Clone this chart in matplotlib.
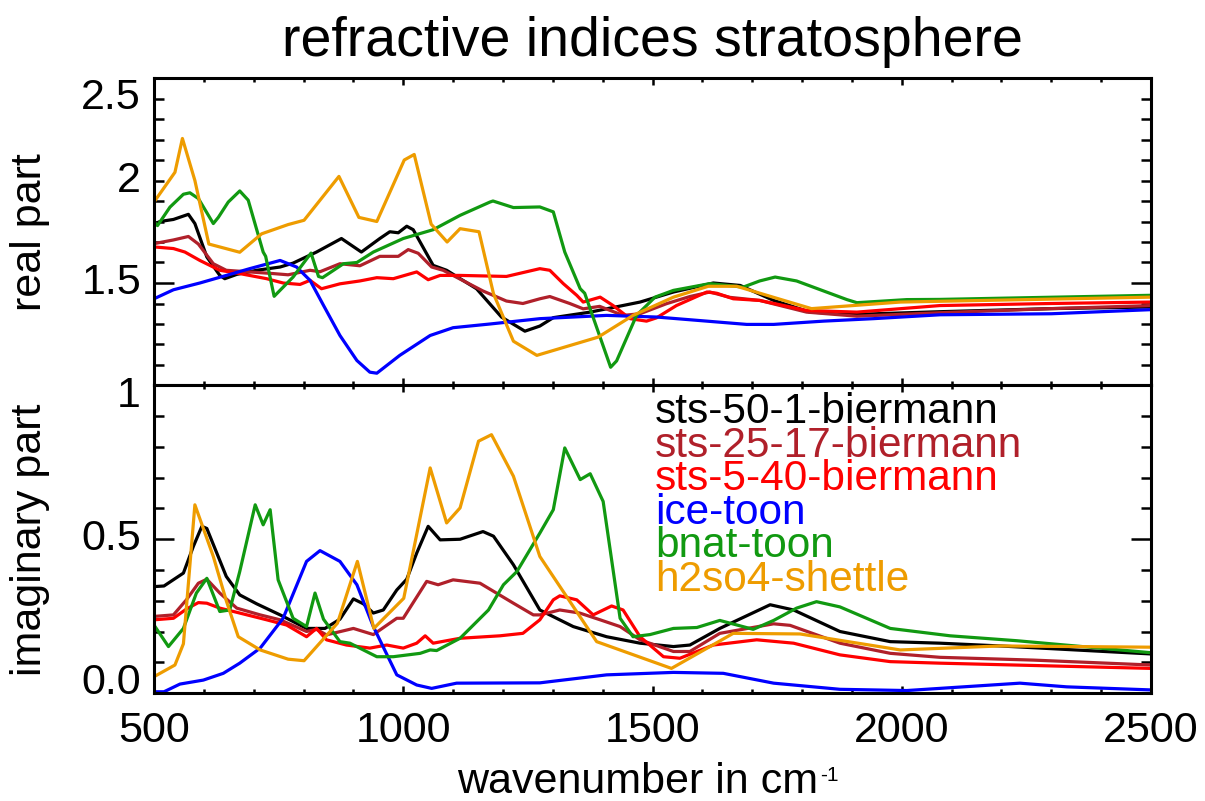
import numpy as np
import matplotlib.pyplot as plt
import matplotlib.transforms as mtransforms
from matplotlib.ticker import MultipleLocator, FixedLocator, NullFormatter

plt.rcParams['font.family'] = 'Liberation Sans'

# ---- data ----
names = ['sts-50-1-biermann', 'sts-25-17-biermann', 'sts-5-40-biermann',
         'ice-toon', 'bnat-toon', 'h2so4-shettle']
colors = ['#000000', '#B0202A', '#FF0000', '#0000FF', '#119911', '#EE9C00']

# real part
wn_sts50_re = [500, 512, 539, 569, 582, 606, 632, 642, 666, 706, 753, 779, 826, 876, 916, 953, 973, 990,
               1007, 1020, 1060, 1087, 1147, 1197, 1244, 1274, 1301, 1375, 1475, 1542, 1622, 1676, 1743,
               1816, 1910, 2077, 2300, 2500]
n_sts50_re = [1.787, 1.80, 1.81, 1.835, 1.79, 1.627, 1.537, 1.521, 1.542, 1.562, 1.578, 1.597, 1.651, 1.717,
              1.651, 1.717, 1.75, 1.745, 1.777, 1.76, 1.586, 1.562, 1.472, 1.334, 1.265, 1.29, 1.331, 1.358,
              1.407, 1.456, 1.50, 1.488, 1.415, 1.358, 1.347, 1.36, 1.375, 1.383]

wn_sts25_re = [500, 539, 569, 589, 619, 645, 686, 739, 769, 813, 833, 873, 913, 953, 990, 1010, 1030, 1057,
               1080, 1160, 1207, 1240, 1274, 1294, 1334, 1361, 1394, 1441, 1475, 1528, 1575, 1615, 1655,
               1715, 1809, 1910, 2077, 2300, 2500]
n_sts25_re = [1.692, 1.71, 1.727, 1.69, 1.594, 1.562, 1.555, 1.546, 1.54, 1.562, 1.555, 1.594, 1.584, 1.63,
              1.63, 1.663, 1.645, 1.578, 1.562, 1.461, 1.412, 1.40, 1.423, 1.434, 1.40, 1.374, 1.386, 1.342,
              1.35, 1.399, 1.434, 1.456, 1.43, 1.415, 1.358, 1.338, 1.355, 1.375, 1.39]

wn_sts5_re = [500, 539, 562, 592, 632, 672, 726, 759, 793, 813, 836, 873, 913, 947, 980, 1027, 1050, 1074,
              1114, 1207, 1274, 1294, 1321, 1348, 1361, 1395, 1421, 1455, 1488, 1508, 1548, 1609, 1629,
              1662, 1715, 1809, 1910, 2077, 2300, 2500]
n_sts5_re = [1.676, 1.668, 1.651, 1.61, 1.562, 1.546, 1.521, 1.50, 1.493, 1.513, 1.472, 1.496, 1.51, 1.526,
             1.521, 1.554, 1.516, 1.537, 1.537, 1.532, 1.57, 1.562, 1.497, 1.44, 1.407, 1.431, 1.39, 1.326,
             1.314, 1.33, 1.39, 1.456, 1.45, 1.423, 1.415, 1.366, 1.358, 1.39, 1.40, 1.407]

wn_ice_re = [500, 539, 592, 645, 692, 753, 786, 813, 840, 873, 907, 933, 947, 993, 1054, 1100, 1174, 1274,
             1341, 1408, 1508, 1609, 1689, 1743, 1843, 1943, 2077, 2300, 2500]
n_ice_re = [1.423, 1.467, 1.50, 1.537, 1.57, 1.61, 1.578, 1.513, 1.391, 1.244, 1.122, 1.065, 1.06, 1.147,
            1.244, 1.282, 1.30, 1.326, 1.334, 1.342, 1.334, 1.314, 1.298, 1.298, 1.314, 1.326, 1.345, 1.35,
            1.37]

wn_bnat_re = [500, 507, 532, 559, 572, 589, 619, 629, 649, 672, 689, 719, 724, 741, 779, 815, 830, 838, 880,
              907, 940, 1000, 1060, 1114, 1174, 1180, 1221, 1274, 1301, 1324, 1355, 1364, 1416, 1428, 1468,
              1505, 1542, 1615, 1682, 1715, 1746, 1789, 1890, 1910, 2010, 2077, 2500]
n_bnat_re = [1.798, 1.78, 1.87, 1.933, 1.94, 1.912, 1.79, 1.82, 1.895, 1.949, 1.904, 1.651, 1.63, 1.435,
             1.529, 1.646, 1.532, 1.526, 1.594, 1.60, 1.651, 1.717, 1.76, 1.83, 1.895, 1.90, 1.868, 1.871,
             1.847, 1.651, 1.472, 1.45, 1.089, 1.12, 1.342, 1.431, 1.464, 1.497, 1.48, 1.51, 1.529, 1.51,
             1.419, 1.404, 1.419, 1.42, 1.44]

wn_h2so4_re = [500, 542, 557, 582, 610, 672, 716, 769, 801, 871, 911, 947, 1002, 1022, 1056, 1088, 1114,
               1152, 1181, 1221, 1268, 1391, 1461, 1542, 1612, 1669, 1743, 1819, 1997, 2500]
n_h2so4_re = [1.895, 2.04, 2.205, 2.0, 1.69, 1.65, 1.74, 1.785, 1.806, 2.02, 1.82, 1.80, 2.10, 2.127, 1.787,
              1.70, 1.765, 1.75, 1.448, 1.216, 1.147, 1.236, 1.342, 1.431, 1.484, 1.484, 1.43, 1.375, 1.407,
              1.431]

# imaginary part
wn_sts50_im = [500, 520, 559, 579, 596, 606, 626, 645, 672, 706, 753, 806, 843, 873, 900, 920, 940, 960, 987,
               1007, 1027, 1050, 1074, 1114, 1160, 1181, 1221, 1274, 1341, 1408, 1475, 1542, 1575, 1635,
               1736, 1783, 1876, 1977, 2077, 2197, 2500]
k_sts50_im = [0.346, 0.348, 0.39, 0.477, 0.542, 0.535, 0.455, 0.379, 0.319, 0.29, 0.254, 0.21, 0.21, 0.24,
              0.306, 0.29, 0.26, 0.27, 0.335, 0.37, 0.455, 0.542, 0.498, 0.50, 0.525, 0.51, 0.417, 0.27,
              0.216, 0.183, 0.162, 0.151, 0.156, 0.21, 0.287, 0.27, 0.20, 0.167, 0.162, 0.153, 0.127]

wn_sts25_im = [500, 539, 565, 589, 606, 632, 666, 713, 753, 806, 826, 846, 900, 940, 987, 1000, 1047, 1070,
               1100, 1154, 1221, 1261, 1274, 1314, 1354, 1395, 1435, 1475, 1542, 1575, 1635, 1743, 1776,
               1876, 1977, 2077, 2264, 2500]
k_sts25_im = [0.249, 0.254, 0.303, 0.357, 0.37, 0.325, 0.276, 0.254, 0.238, 0.20, 0.207, 0.189, 0.21, 0.19,
              0.243, 0.243, 0.363, 0.352, 0.368, 0.357, 0.292, 0.254, 0.254, 0.27, 0.26, 0.238, 0.216, 0.173,
              0.135, 0.135, 0.194, 0.225, 0.22, 0.162, 0.129, 0.116, 0.107, 0.091]

wn_sts5_im = [500, 539, 565, 589, 606, 632, 672, 726, 766, 806, 826, 846, 886, 933, 967, 1000, 1027, 1044,
              1060, 1114, 1194, 1240, 1274, 1301, 1314, 1348, 1381, 1418, 1441, 1475, 1522, 1555, 1622,
              1709, 1783, 1876, 1977, 2077, 2500]
k_sts5_im = [0.238, 0.243, 0.273, 0.294, 0.292, 0.276, 0.26, 0.238, 0.221, 0.183, 0.21, 0.173, 0.156, 0.146,
             0.156, 0.146, 0.162, 0.186, 0.162, 0.178, 0.186, 0.194, 0.238, 0.303, 0.316, 0.303, 0.254,
             0.283, 0.27, 0.183, 0.118, 0.113, 0.156, 0.173, 0.162, 0.124, 0.102, 0.097, 0.08]

wn_ice_im = [500, 520, 552, 599, 639, 672, 713, 759, 806, 833, 873, 907, 940, 987, 1027, 1057, 1107, 1274,
             1408, 1542, 1642, 1743, 1876, 2010, 2237, 2331, 2500]
k_ice_im = [0.004, 0.004, 0.029, 0.042, 0.064, 0.097, 0.146, 0.243, 0.428, 0.463, 0.428, 0.352, 0.216,
            0.059, 0.026, 0.015, 0.032, 0.033, 0.059, 0.067, 0.064, 0.032, 0.012, 0.008, 0.032, 0.02, 0.01]

wn_bnat_im = [500, 529, 559, 585, 606, 632, 652, 672, 703, 719, 733, 749, 779, 806, 823, 840, 873, 893, 947,
              980, 1034, 1054, 1067, 1114, 1171, 1201, 1228, 1274, 1301, 1324, 1355, 1375, 1401, 1435, 1461,
              1495, 1542, 1589, 1635, 1702, 1743, 1789, 1829, 1876, 1977, 2097, 2231, 2500]
k_bnat_im = [0.221, 0.151, 0.21, 0.325, 0.373, 0.265, 0.27, 0.395, 0.612, 0.547, 0.596, 0.368, 0.243, 0.216,
             0.325, 0.24, 0.167, 0.162, 0.118, 0.118, 0.129, 0.14, 0.138, 0.178, 0.27, 0.352, 0.395, 0.52,
             0.596, 0.797, 0.694, 0.713, 0.623, 0.243, 0.183, 0.19, 0.21, 0.213, 0.236, 0.207, 0.236, 0.276,
             0.297, 0.28, 0.21, 0.186, 0.17, 0.131]

wn_h2so4_im = [500, 542, 559, 582, 619, 645, 669, 713, 769, 801, 868, 908, 941, 1001, 1054, 1087, 1114, 1151,
               1177, 1221, 1274, 1388, 1538, 1662, 1796, 1997, 2197, 2500]
k_h2so4_im = [0.053, 0.091, 0.16, 0.612, 0.444, 0.30, 0.183, 0.14, 0.11, 0.105, 0.227, 0.428, 0.21, 0.308,
              0.732, 0.553, 0.602, 0.819, 0.84, 0.705, 0.444, 0.167, 0.08, 0.194, 0.192, 0.14, 0.153, 0.149]

real_parts = [(wn_sts50_re, n_sts50_re), (wn_sts25_re, n_sts25_re), (wn_sts5_re, n_sts5_re),
              (wn_ice_re, n_ice_re), (wn_bnat_re, n_bnat_re), (wn_h2so4_re, n_h2so4_re)]
imag_parts = [(wn_sts50_im, k_sts50_im), (wn_sts25_im, k_sts25_im), (wn_sts5_im, k_sts5_im),
              (wn_ice_im, k_ice_im), (wn_bnat_im, k_bnat_im), (wn_h2so4_im, k_h2so4_im)]

# y tick labels (value, text, vertical nudge in pixels, like the IDL layout)
top_labels = [(2.5, '2.5', -20), (2.0, '2', 0), (1.5, '1.5', 0)]
bot_labels = [(1.0, '1', -11), (0.5, '0.5', 0), (0.0, '0.0', 10)]

# ---- figure ----
W, H = 1205, 801
fig = plt.figure(figsize=(W / 100, H / 100), dpi=100)
ax1 = fig.add_axes([154 / W, 1 - 385.5 / H, 997 / W, 307.5 / H])
ax2 = fig.add_axes([154 / W, 1 - 693 / H, 997 / W, 307.5 / H])

for (x, y), c in zip(real_parts, colors):
    ax1.plot(x, y, color=c, lw=2.3)
for (x, y), c in zip(imag_parts, colors):
    ax2.plot(x, y, color=c, lw=2.3)

ax1.set_xlim(500, 2500)
ax2.set_xlim(500, 2500)
ax1.set_ylim(1.0, 2.5)
ax2.set_ylim(0.0, 1.0)

for ax, major_y, labels in [(ax1, [1.5], top_labels), (ax2, [0.5], bot_labels)]:
    for s in ax.spines.values():
        s.set_linewidth(2.2)
    ax.xaxis.set_major_locator(MultipleLocator(500))
    ax.xaxis.set_minor_locator(MultipleLocator(100))
    ax.yaxis.set_major_locator(FixedLocator(major_y))
    ax.yaxis.set_minor_locator(MultipleLocator(0.1))
    ax.yaxis.set_major_formatter(NullFormatter())
    ax.tick_params(which='both', direction='in', top=True, right=True, width=1.8)
    ax.tick_params(axis='x', which='major', length=5)
    ax.tick_params(axis='x', which='minor', length=3)
    ax.tick_params(axis='y', which='major', length=14.5)
    ax.tick_params(axis='y', which='minor', length=7)
    trans = mtransforms.blended_transform_factory(ax.transAxes, ax.transData)
    for val, txt, dy in labels:
        tr = mtransforms.offset_copy(trans, fig=fig, x=0, y=dy, units='dots')
        ax.text(-0.013, val, txt, transform=tr, ha='right', va='center', fontsize=31)

ax1.xaxis.set_major_formatter(NullFormatter())
ax2.tick_params(axis='x', which='major', labelsize=31, pad=13)

ax1.set_title('refractive indices stratosphere', fontsize=40, pad=16)

xl = ax2.set_xlabel('wavenumber in cm', fontsize=31)
ax2.xaxis.set_label_coords(0.4855, -0.225)
ax2.annotate('-1', xy=(1, 1), xycoords=xl, xytext=(1, -3), textcoords='offset points',
             ha='left', va='top', fontsize=15)

ax1.set_ylabel('real part', fontsize=31)
ax1.yaxis.set_label_coords(-0.104, 0.5)
ax2.set_ylabel('imaginary part', fontsize=31)
ax2.yaxis.set_label_coords(-0.104, 0.5)

# legend written as coloured text lines
for i, (name, c) in enumerate(zip(names, colors)):
    ax2.text(0.5025, 0.914 - i * 0.1093, name, color=c, fontsize=30.5,
             transform=ax2.transAxes, ha='left', va='center')

fig.savefig('out.png', dpi=100)
